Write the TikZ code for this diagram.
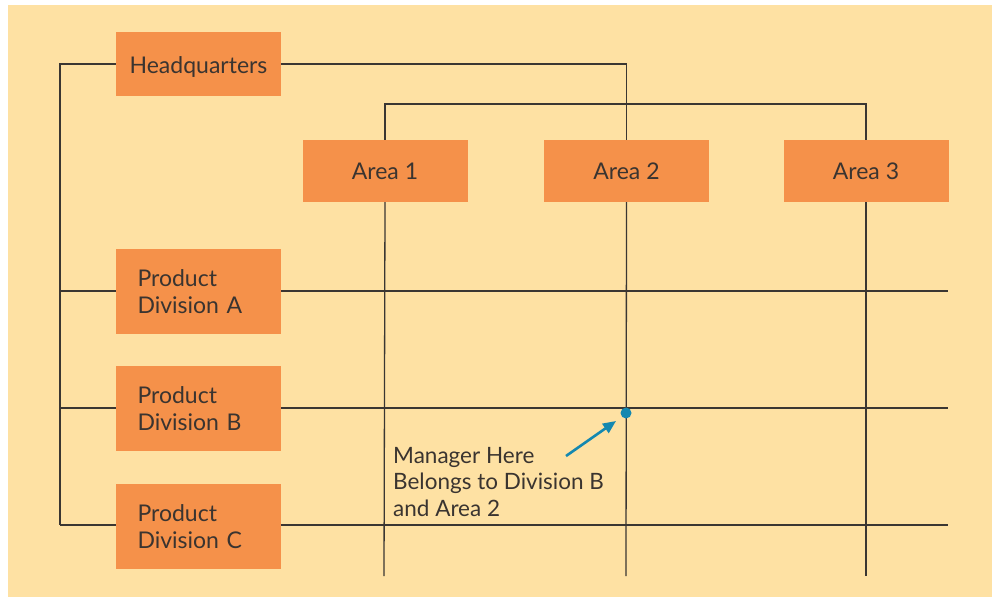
\documentclass[tikz,border=0pt]{standalone}
\usepackage{fontspec}
\setmainfont{Lato}
\usetikzlibrary{arrows.meta}
\definecolor{bgc}{HTML}{FEE1A3}
\definecolor{boxc}{HTML}{F5914A}
\definecolor{linec}{HTML}{3A3632}
\definecolor{txtc}{HTML}{3A3430}
\definecolor{arrc}{HTML}{1488B0}
\pgfdeclarelayer{bg}
\pgfsetlayers{bg,main}
\begin{document}
\begin{tikzpicture}[x=1pt,y=-1pt,
  orgbox/.style={fill=boxc,draw=none,text=txtc,inner sep=0pt,
    font=\fontsize{23}{27}\selectfont},
  areabox/.style={orgbox,minimum width=165pt,minimum height=62pt},
  divbox/.style={orgbox,minimum height=85pt,text width=122pt,inner xsep=21.5pt,align=left},
  conn/.style={draw=linec,line width=1.3pt}]
\useasboundingbox (0,0) rectangle (992,597);
\begin{pgfonlayer}{bg}
\fill[bgc] (8,5) rectangle (992,597);
\end{pgfonlayer}
% nodes
\node[areabox,minimum height=64pt,text height=19pt,text depth=0pt] (hq) at (198.5,64) {Headquarters};
\node[areabox] (a1) at (385,171) {Area 1};
\node[areabox] (a2) at (626.5,171) {Area 2};
\node[areabox] (a3) at (866,171) {Area 3};
\node[divbox] (dA) at (198.5,291.5) {Product\\Division A};
\node[divbox] (dB) at (198.5,408.5) {Product\\Division B};
\node[divbox] (dC) at (198.5,526.5) {Product\\Division C};
\node[anchor=north west,align=left,inner sep=0pt,text=txtc,
  font=\fontsize{22.5}{26.5}\selectfont] (note) at (393,447) {Manager Here\\Belongs to Division B\\and Area 2};
% coordinates
\coordinate (lA) at (60,291);
\coordinate (lB) at (60,408);
\coordinate (lC) at (60,525);
\coordinate (rA) at (948,291);
\coordinate (rB) at (948,408);
\coordinate (rC) at (948,525);
\coordinate (t1) at (384,104);
\coordinate (t3) at (866,104);
\coordinate (b1) at (384,576);
\coordinate (b2) at (626,576);
\coordinate (b3) at (866,576);
\coordinate (tail) at (566,456);
\coordinate (tip) at (616,421);
\node[circle,fill=arrc,minimum size=11pt,inner sep=0pt] (dot) at (626,413) {};
\begin{pgfonlayer}{bg}
\draw[conn] (hq.west) -| (lC);
\draw[conn] (hq.east) -| (a2.north);
\draw[conn] (a1.north) |- (t1) -- (t3) -- (a3.north);
\draw[conn] (lA) -- (rA);
\draw[conn] (lB) -- (rB);
\draw[conn] (lC) -- (rC);
\draw[conn] (a1.south) -- (b1);
\draw[conn] (a2.south) -- (b2);
\draw[conn] (a3.south) -- (b3);
\end{pgfonlayer}
\draw[arrc,line width=2.6pt,-{Triangle[length=13pt,width=11pt]}] (tail) -- (tip);
\end{tikzpicture}
\end{document}
